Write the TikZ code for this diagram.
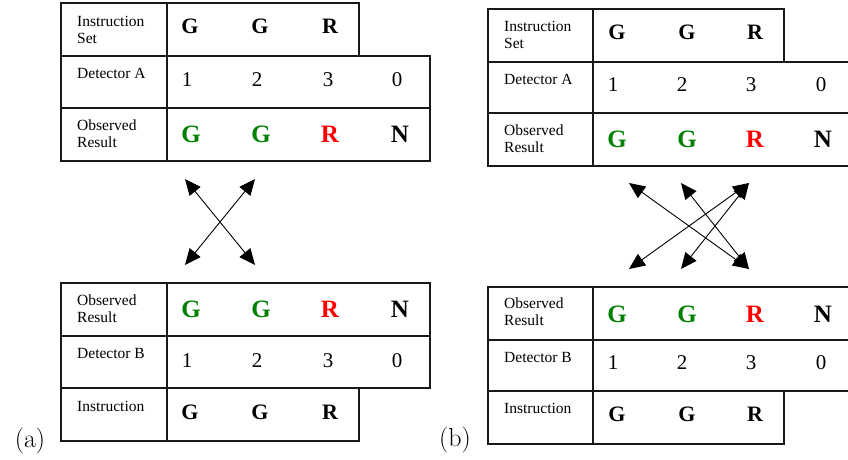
\documentclass[tikz,border=0pt]{standalone}
\usepackage{fontspec}
\usetikzlibrary{arrows.meta}
\newfontfamily\tnr{Liberation Serif}
\definecolor{okgreen}{RGB}{0,128,0}
\definecolor{okred}{RGB}{255,0,0}
\tikzset{
  cellbox/.style={draw=black!90, line width=1.3pt},
  lbl/.style={anchor=base west, inner sep=0pt, align=left, font=\tnr\fontsize{15.5}{17}\selectfont},
  digit/.style={anchor=base, inner sep=0pt, font=\tnr\fontsize{21}{24}\selectfont},
  blk/.style={anchor=base, inner sep=0pt, font=\tnr\bfseries\fontsize{22}{24}\selectfont},
  col/.style={anchor=base, inner sep=0pt, font=\tnr\bfseries\fontsize{25}{28}\selectfont},
  panel/.style={anchor=base, inner sep=0pt, font=\fontsize{26}{30}\selectfont},
  dbl/.style={{Triangle[length=16pt,width=14pt]}-{Triangle[length=16pt,width=14pt]}, line width=0.9pt}
}
\begin{document}
\begin{tikzpicture}[x=1pt,y=-1pt]
\useasboundingbox (0,0) rectangle (848,459);
% ---------- (a) top table ----------
\begin{scope}[shift={(61,3)}]
  \draw[cellbox] (0,0) rectangle (106,53);
  \draw[cellbox] (106,0) rectangle (298,53);
  \draw[cellbox] (0,53) rectangle (106,105);
  \draw[cellbox] (106,53) rectangle (369,105);
  \draw[cellbox] (0,105) rectangle (106,158);
  \draw[cellbox] (106,105) rectangle (369,158);
  \node[lbl] (aT1) at (16,40) {Instruction\\Set};
  \node[blk] (aT1a) at (129,30) {G};
  \node[blk] (aT1b) at (199,30) {G};
  \node[blk] (aT1c) at (269,30) {R};
  \node[lbl] (aT2) at (16,75) {Detector A};
  \node[digit] (aT2a) at (126,83) {1};
  \node[digit] (aT2b) at (196,83) {2};
  \node[digit] (aT2c) at (267,83) {3};
  \node[digit] (aT2d) at (336,83) {0};
  \node[lbl] (aT3) at (16,144) {Observed\\Result};
  \node[col, text=okgreen] (aT3a) at (130,139) {G};
  \node[col, text=okgreen] (aT3b) at (200,139) {G};
  \node[col, text=okred] (aT3c) at (269,139) {R};
  \node[col] (aT3d) at (339,139) {N};
\end{scope}
% ---------- (a) bottom table ----------
\begin{scope}[shift={(61,283)}]
  \draw[cellbox] (0,0) rectangle (106,53);
  \draw[cellbox] (106,0) rectangle (369,53);
  \draw[cellbox] (0,53) rectangle (106,105);
  \draw[cellbox] (106,53) rectangle (369,105);
  \draw[cellbox] (0,105) rectangle (106,158);
  \draw[cellbox] (106,105) rectangle (298,158);
  \node[lbl] (aB1) at (16,39) {Observed\\Result};
  \node[col, text=okgreen] (aB1a) at (130,34) {G};
  \node[col, text=okgreen] (aB1b) at (200,34) {G};
  \node[col, text=okred] (aB1c) at (269,34) {R};
  \node[col] (aB1d) at (339,34) {N};
  \node[lbl] (aB2) at (16,75) {Detector B};
  \node[digit] (aB2a) at (126,84) {1};
  \node[digit] (aB2b) at (196,84) {2};
  \node[digit] (aB2c) at (267,84) {3};
  \node[digit] (aB2d) at (336,84) {0};
  \node[lbl] (aB3) at (16,128) {Instruction};
  \node[blk] (aB3a) at (129,136) {G};
  \node[blk] (aB3b) at (199,136) {G};
  \node[blk] (aB3c) at (269,136) {R};
\end{scope}
% ---------- (b) top table ----------
\begin{scope}[shift={(488,9)}]
  \draw[cellbox] (0,0) rectangle (105,53);
  \draw[cellbox] (105,0) rectangle (296,53);
  \draw[cellbox] (0,53) rectangle (105,104);
  \draw[cellbox] (105,53) rectangle (372,104);
  \draw[cellbox] (0,104) rectangle (105,157);
  \draw[cellbox] (105,104) rectangle (372,157);
  \node[lbl] (bT1) at (16,39) {Instruction\\Set};
  \node[blk] (bT1a) at (129,30) {G};
  \node[blk] (bT1b) at (199,30) {G};
  \node[blk] (bT1c) at (267,30) {R};
  \node[lbl] (bT2) at (16,75) {Detector A};
  \node[digit] (bT2a) at (125,82) {1};
  \node[digit] (bT2b) at (194,82) {2};
  \node[digit] (bT2c) at (263,82) {3};
  \node[digit] (bT2d) at (333,82) {0};
  \node[lbl] (bT3) at (16,143) {Observed\\Result};
  \node[col, text=okgreen] (bT3a) at (129,138) {G};
  \node[col, text=okgreen] (bT3b) at (199,138) {G};
  \node[col, text=okred] (bT3c) at (267,138) {R};
  \node[col] (bT3d) at (335,138) {N};
\end{scope}
% ---------- (b) bottom table ----------
\begin{scope}[shift={(488,287)}]
  \draw[cellbox] (0,0) rectangle (105,53);
  \draw[cellbox] (105,0) rectangle (372,53);
  \draw[cellbox] (0,53) rectangle (105,104);
  \draw[cellbox] (105,53) rectangle (372,104);
  \draw[cellbox] (0,104) rectangle (105,157);
  \draw[cellbox] (105,104) rectangle (296,157);
  \node[lbl] (bB1) at (16,38) {Observed\\Result};
  \node[col, text=okgreen] (bB1a) at (129,35) {G};
  \node[col, text=okgreen] (bB1b) at (199,35) {G};
  \node[col, text=okred] (bB1c) at (267,35) {R};
  \node[col] (bB1d) at (335,35) {N};
  \node[lbl] (bB2) at (16,75) {Detector B};
  \node[digit] (bB2a) at (125,82) {1};
  \node[digit] (bB2b) at (194,82) {2};
  \node[digit] (bB2c) at (263,82) {3};
  \node[digit] (bB2d) at (333,82) {0};
  \node[lbl] (bB3) at (16,126) {Instruction};
  \node[blk] (bB3a) at (129,134) {G};
  \node[blk] (bB3b) at (199,134) {G};
  \node[blk] (bB3c) at (267,134) {R};
\end{scope}
% ---------- arrows (a) ----------
\coordinate (ta1) at (185,179);
\coordinate (ta2) at (255,179);
\coordinate (ba1) at (185,265);
\coordinate (ba2) at (255,265);
\draw[dbl] (ta1) -- (ba2);
\draw[dbl] (ta2) -- (ba1);
% ---------- arrows (b) ----------
\coordinate (tb1) at (629,183);
\coordinate (tb2) at (681,183);
\coordinate (tb3) at (749,183);
\coordinate (bb1) at (629,269);
\coordinate (bb2) at (681,269);
\coordinate (bb3) at (749,269);
\draw[dbl] (tb1) -- (bb3);
\draw[dbl] (tb2) -- (bb3);
\draw[dbl] (tb3) -- (bb1);
\draw[dbl] (tb3) -- (bb2);
% ---------- panel labels ----------
\node[panel] (pa) at (30,447) {(a)};
\node[panel] (pb) at (455,446) {(b)};
\end{tikzpicture}
\end{document}
